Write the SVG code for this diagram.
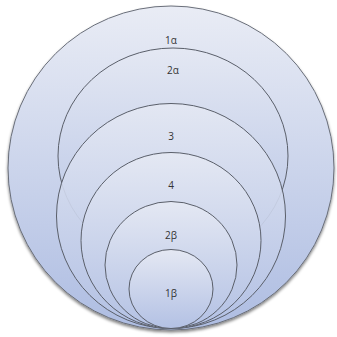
<svg xmlns="http://www.w3.org/2000/svg" width="337" height="337" viewBox="0 0 337 337">
<defs>
<linearGradient id="g" x1="0" y1="0" x2="0" y2="1">
<stop offset="0" stop-color="#e9ecf5"/>
<stop offset="1" stop-color="#aebde2"/>
</linearGradient>
<linearGradient id="gi" x1="0" y1="0" x2="0" y2="1">
<stop offset="0" stop-color="#e4e8f3"/>
<stop offset="1" stop-color="#b3c1e4"/>
</linearGradient>
<filter id="sh" x="-10%" y="-10%" width="120%" height="125%">
<feGaussianBlur in="SourceAlpha" stdDeviation="1.5"/>
<feOffset dy="1.5"/>
<feComponentTransfer><feFuncA type="linear" slope="0.5"/></feComponentTransfer>
<feMerge><feMergeNode/><feMergeNode in="SourceGraphic"/></feMerge>
</filter>
</defs>
<style>
.c{fill:url(#gi);stroke:#5a5f6a;stroke-width:1}
.t{font-family:"Open Sans","Liberation Sans",sans-serif;font-size:10px;fill:#333;text-anchor:middle}
</style>
<rect width="337" height="337" fill="#ffffff"/>
<g id="n1a" filter="url(#sh)">
<ellipse cx="171" cy="168" rx="163" ry="162" fill="url(#g)" stroke="#6a6f7a" stroke-width="1"/>
</g>
<g id="n2a">
<ellipse class="c" cx="173" cy="156" rx="115" ry="108"/>
</g>
<g id="n3">
<ellipse class="c" cx="171" cy="216" rx="114.5" ry="112.5" fill-opacity="0.9"/>
</g>
<g id="n4">
<ellipse class="c" cx="171" cy="240.5" rx="90" ry="88"/>
</g>
<g id="n2b">
<ellipse class="c" cx="171" cy="265" rx="66" ry="63.5"/>
</g>
<g id="n1b">
<ellipse class="c" cx="171" cy="289" rx="42" ry="39.5"/>
</g>
<g id="labels">
<text class="t" x="171" y="44">1α</text>
<text class="t" x="173" y="74">2α</text>
<text class="t" x="171" y="140">3</text>
<text class="t" x="171" y="189">4</text>
<text class="t" x="171" y="239">2β</text>
<text class="t" x="171" y="297">1β</text>
</g>
<g id="connectors"/>
</svg>
